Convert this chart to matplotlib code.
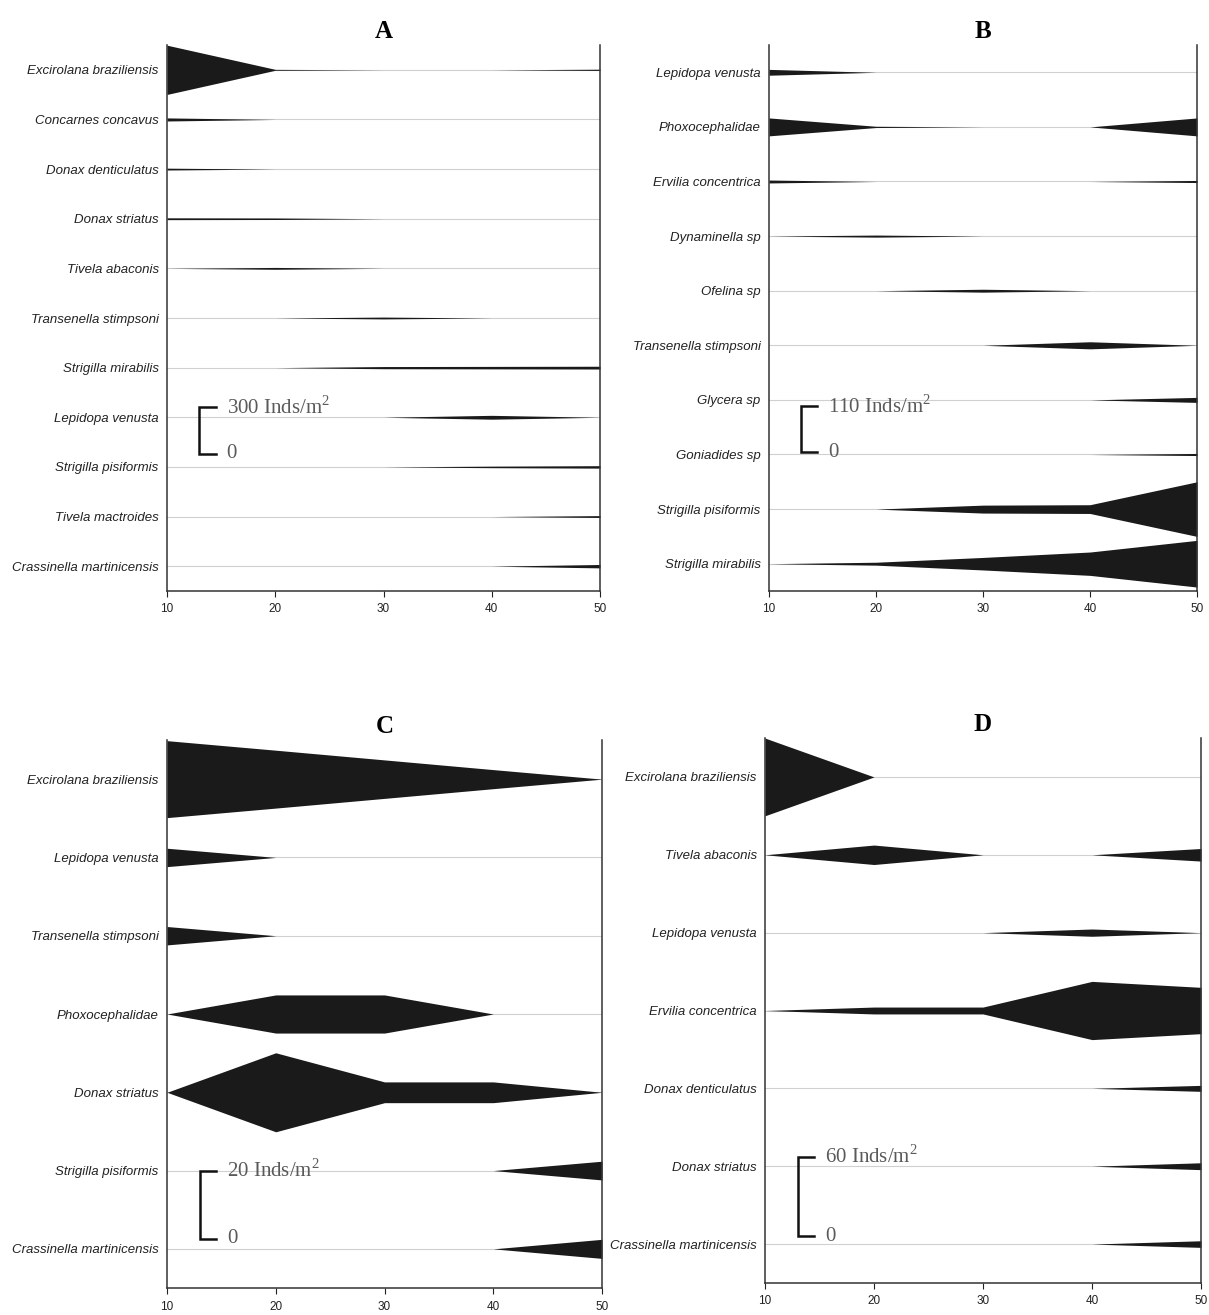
import numpy as np
import matplotlib.pyplot as plt

plt.rcParams['mathtext.fontset'] = 'custom'
plt.rcParams['mathtext.rm'] = 'Liberation Serif'

# sampling depths (x axis)
depths = [10, 20, 30, 40, 50]

# panel A
species_a = ['Excirolana braziliensis', 'Concarnes concavus', 'Donax denticulatus',
             'Donax striatus', 'Tivela abaconis', 'Transenella stimpsoni',
             'Strigilla mirabilis', 'Lepidopa venusta', 'Strigilla pisiformis',
             'Tivela mactroides', 'Crassinella martinicensis']
values_a = [[320, 6, 0, 0, 8],
            [20, 0, 0, 0, 0],
            [12, 0, 0, 0, 0],
            [12, 10, 0, 0, 0],
            [0, 12, 0, 0, 0],
            [0, 0, 12, 0, 0],
            [0, 0, 14, 16, 18],
            [0, 0, 0, 25, 0],
            [0, 0, 0, 10, 16],
            [0, 0, 0, 0, 12],
            [0, 0, 0, 0, 22]]

# panel B
species_b = ['Lepidopa venusta', 'Phoxocephalidae', 'Ervilia concentrica',
             'Dynaminella sp', 'Ofelina sp', 'Transenella stimpsoni',
             'Glycera sp', 'Goniadides sp', 'Strigilla pisiformis',
             'Strigilla mirabilis']
values_b = [[14, 0, 0, 0, 0],
            [43, 3, 0, 0, 43],
            [7, 0, 0, 0, 5],
            [0, 5, 0, 0, 0],
            [0, 0, 7, 0, 0],
            [0, 0, 0, 17, 0],
            [0, 0, 0, 0, 12],
            [0, 0, 0, 0, 5],
            [0, 0, 19, 21, 131],
            [0, 7, 30, 56, 112]]

# panel C
species_c = ['Excirolana braziliensis', 'Lepidopa venusta', 'Transenella stimpsoni',
             'Phoxocephalidae', 'Donax striatus', 'Strigilla pisiformis',
             'Crassinella martinicensis']
values_c = [[22.6, 17, 11.3, 5.6, 0],
            [5.4, 0, 0, 0, 0],
            [5.4, 0, 0, 0, 0],
            [0, 11.2, 11.2, 0, 0],
            [0, 23.2, 6.1, 6.1, 0],
            [0, 0, 0, 0, 5.5],
            [0, 0, 0, 0, 5.6]]

# panel D
species_d = ['Excirolana braziliensis', 'Tivela abaconis', 'Lepidopa venusta',
             'Ervilia concentrica', 'Donax denticulatus', 'Donax striatus',
             'Crassinella martinicensis']
values_d = [[58.7, 0, 0, 0, 0],
            [0, 14.7, 0, 0, 9.5],
            [0, 0, 0, 5.5, 0],
            [0, 5.2, 5.2, 44, 35],
            [0, 0, 0, 0, 4.5],
            [0, 0, 0, 0, 5.2],
            [0, 0, 0, 0, 5.0]]

titles = ['A', 'B', 'C', 'D']
scale_vals = [300, 110, 20, 60]

W, H = 1209, 1315
fig = plt.figure(figsize=(W / 100, H / 100), dpi=100)

# axes boxes in pixels: left, right, top, bottom
boxes = [(167, 600, 45, 591), (769, 1197, 45, 591),
         (167, 602, 740, 1288), (765, 1201, 738, 1283)]
# scale bar: length in rows, top position in rows
bar_len = [0.93, 0.84, 0.87, 1.02]
bar_top = [6.8, 6.12, 5.0, 4.88]

panels = [(species_a, values_a), (species_b, values_b),
          (species_c, values_c), (species_d, values_d)]

for i, (species, values) in enumerate(panels):
    l, r, t, b = boxes[i]
    ax = fig.add_axes([l / W, 1 - b / H, (r - l) / W, (b - t) / H])
    n = len(species)
    rows = np.arange(n)
    k = bar_len[i] / scale_vals[i] / 2.0
    for y, v in zip(rows, values):
        ax.axhline(y, color='#d0d0d0', lw=0.8, zorder=0)
        half = np.array(v) * k
        ax.fill_between(depths, y - half, y + half, color='#1a1a1a', lw=0, zorder=2)
    ax.set_xlim(10, 50)
    ax.set_ylim(n - 0.5, -0.5)
    ax.set_yticks(rows)
    ax.set_yticklabels(species, fontstyle='italic', fontsize=9.5,
                       fontfamily='Liberation Sans', color='#222222')
    ax.tick_params(axis='y', length=0, pad=6)
    ax.set_xticks(depths)
    ax.tick_params(axis='x', length=4, width=0.8, labelsize=8.5, pad=5, colors='#222222')
    for lab in ax.get_xticklabels():
        lab.set_fontfamily('Liberation Sans')
    ax.spines['top'].set_visible(False)
    for s in ['left', 'right', 'bottom']:
        ax.spines[s].set_color('#333333')
        ax.spines[s].set_linewidth(1.1)

    # scale bracket
    y0 = bar_top[i]
    y1 = y0 + bar_len[i]
    ax.plot([14.5, 13, 13, 14.5], [y0, y0, y1, y1], color='#111111', lw=1.8,
            solid_joinstyle='miter', zorder=3, clip_on=False)
    ax.text(15.5, y0, f'{scale_vals[i]} Inds/m$^2$', fontsize=15,
            fontfamily='Liberation Serif', color='#5a5a5a', va='center', ha='left', zorder=4)
    ax.text(15.5, y1, '0', fontsize=15, fontfamily='Liberation Serif',
            color='#5a5a5a', va='center', ha='left', zorder=4)

    ax.set_title(titles[i], fontsize=18, fontweight='bold',
                 fontfamily='Liberation Serif', pad=5)

fig.savefig('out.png', dpi=100)
